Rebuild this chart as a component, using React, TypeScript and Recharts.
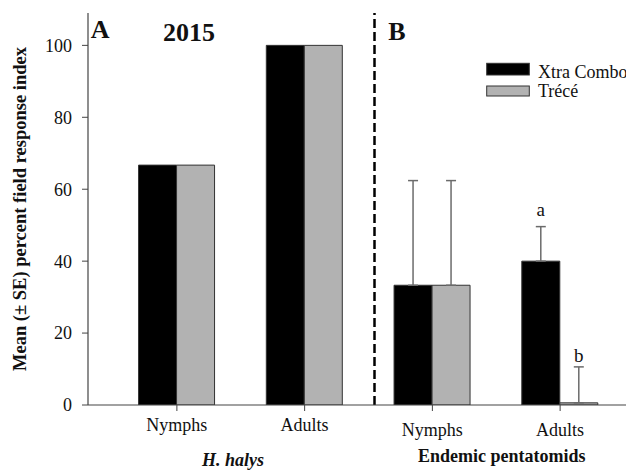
import React from 'react';
import { BarChart, Bar, XAxis, YAxis, ErrorBar, ReferenceLine, LabelList, Legend } from 'recharts';

const categoryKeys = ['hNymphs', 'hAdults', 'eNymphs', 'eAdults'];
const categoryLabels = ['Nymphs', 'Adults', 'Nymphs', 'Adults'];
const categoryPanel = ['A', 'A', 'B', 'B'];
const xtraCombo = [66.7, 100, 33.3, 40];
const trece = [66.7, 100, 33.3, 0.6];
const xtraComboSE: (number | null)[] = [null, null, 29.1, 9.6];
const treceSE: (number | null)[] = [null, null, 29.1, 10];
const xtraLetters = ['', '', '', 'a'];
const treceLetters = ['', '', '', 'b'];
const yTicks = [0, 20, 40, 60, 80, 100];
const panelBStart = 'eNymphs';

const data = categoryKeys.map((k, i) => ({
  key: k,
  label: categoryLabels[i],
  xtra: xtraCombo[i],
  trece: trece[i],
  xtraErr: xtraComboSE[i] == null ? null : [0, xtraComboSE[i]],
  treceErr: treceSE[i] == null ? null : [0, treceSE[i]],
}));

const FONT = '"Liberation Serif", "Times New Roman", serif';
const GRAY = '#b2b2b2';
const AXIS = '#444';

const XTick = (props: any) => {
  const { x, y, payload } = props;
  const i = categoryKeys.indexOf(payload.value);
  const extra = categoryPanel[i] === 'A' ? 18 : 23;
  return (
    <text x={x} y={y + extra} textAnchor="middle" fontFamily={FONT} fontSize={18} fill="#111">
      {categoryLabels[i]}
    </text>
  );
};

const makeLetterContent = (letters: string[], values: number[], se: (number | null)[], gap: number) => (p: any) => {
  const i = p.index;
  const letter = letters[i];
  if (!letter) return null;
  const val = values[i];
  const pxPer = Number(p.height) / val;
  const top = Number(p.y) - (se[i] || 0) * pxPer;
  return (
    <text x={Number(p.x) + Number(p.width) / 2} y={top - gap} textAnchor="middle" fontFamily={FONT} fontSize={19} fill="#111">
      {letter}
    </text>
  );
};

const LegendContent = () => (
  <svg width={160} height={45} style={{ display: 'block' }}>
    <rect x={0.7} y={5.3} width={42.6} height={11.7} fill="#000" stroke="#333" strokeWidth={1} />
    <text x={52} y={20} fontFamily={FONT} fontSize={18} fill="#111">Xtra Combo</text>
    <rect x={0.7} y={28} width={42.6} height={10} fill={GRAY} stroke="#333" strokeWidth={1} />
    <text x={52} y={38.7} fontFamily={FONT} fontSize={18} fill="#111">Trécé</text>
  </svg>
);

const YLabel = () => {
  const cx = 17.5;
  const cy = 201;
  return (
    <text
      x={cx}
      y={cy}
      transform={`rotate(-90, ${cx}, ${cy})`}
      textAnchor="middle"
      fontFamily={FONT}
      fontWeight="bold"
      fontSize={18.5}
      fill="#111"
    >
      Mean (± SE) percent field response index
    </text>
  );
};

const SeparatorShape = (props: any) => {
  const { x1, y1, x2, y2 } = props;
  const shift = 6;
  return (
    <line
      x1={Number(x1) + shift}
      y1={y1}
      x2={Number(x2) + shift}
      y2={y2}
      stroke="#000"
      strokeWidth={2.5}
      strokeDasharray="9 4"
    />
  );
};

export default function App() {
  return (
    <div style={{ position: 'relative', width: 626, height: 464 }}>
      <BarChart
        width={626}
        height={464}
        data={data}
        margin={{ top: 5, right: 0, bottom: 0, left: 0 }}
        barCategoryGap="20%"
        barGap={0}
      >
        <XAxis
          dataKey="key"
          height={67}
          padding={{ left: 25, right: 10 }}
          tick={<XTick />}
          tickSize={6}
          stroke={AXIS}
          tickLine={{ stroke: AXIS }}
          axisLine={{ stroke: AXIS, strokeWidth: 1.2 }}
          interval={0}
        />
        <YAxis
          width={80}
          domain={[0, 109]}
          ticks={yTicks}
          tickSize={6}
          tickMargin={10}
          stroke={AXIS}
          axisLine={{ stroke: AXIS, strokeWidth: 1.2 }}
          tick={{ fontFamily: FONT, fontSize: 18, fill: '#111' }}
          allowDataOverflow
          label={<YLabel />}
        />
        <ReferenceLine x={panelBStart} position="start" shape={<SeparatorShape />} />
        <Bar dataKey="xtra" fill="#000" stroke="#333" strokeWidth={1} isAnimationActive={false}>
          <ErrorBar dataKey="xtraErr" width={5} stroke="#6b6b6b" strokeWidth={1.5} />
          <LabelList dataKey="xtra" content={makeLetterContent(xtraLetters, xtraCombo, xtraComboSE, 11)} />
        </Bar>
        <Bar dataKey="trece" fill={GRAY} stroke="#333" strokeWidth={1} isAnimationActive={false}>
          <ErrorBar dataKey="treceErr" width={5} stroke="#6b6b6b" strokeWidth={1.5} />
          <LabelList dataKey="trece" content={makeLetterContent(treceLetters, trece, treceSE, 4.5)} />
        </Bar>
        <Legend
          layout="horizontal"
          verticalAlign="middle"
          align="center"
          content={<LegendContent />}
          wrapperStyle={{ position: 'absolute', left: 478, top: 50, width: 160, height: 45 }}
        />
      </BarChart>
      <svg width={626} height={464} style={{ position: 'absolute', left: 0, top: 0, pointerEvents: 'none' }}>
        <text x={82.7} y={30.3} fontFamily={FONT} fontWeight="bold" fontSize={26} fill="#111">A</text>
        <text x={155} y={32.7} fontFamily={FONT} fontWeight="bold" fontSize={26} fill="#111">2015</text>
        <text x={380.3} y={32} fontFamily={FONT} fontWeight="bold" fontSize={26} fill="#111">B</text>
        <text x={225} y={457.5} textAnchor="middle" fontFamily={FONT} fontWeight="bold" fontStyle="italic" fontSize={18} fill="#111">H. halys</text>
        <text x={493.7} y={454} textAnchor="middle" fontFamily={FONT} fontWeight="bold" fontSize={18} fill="#111">Endemic pentatomids</text>
      </svg>
    </div>
  );
}
